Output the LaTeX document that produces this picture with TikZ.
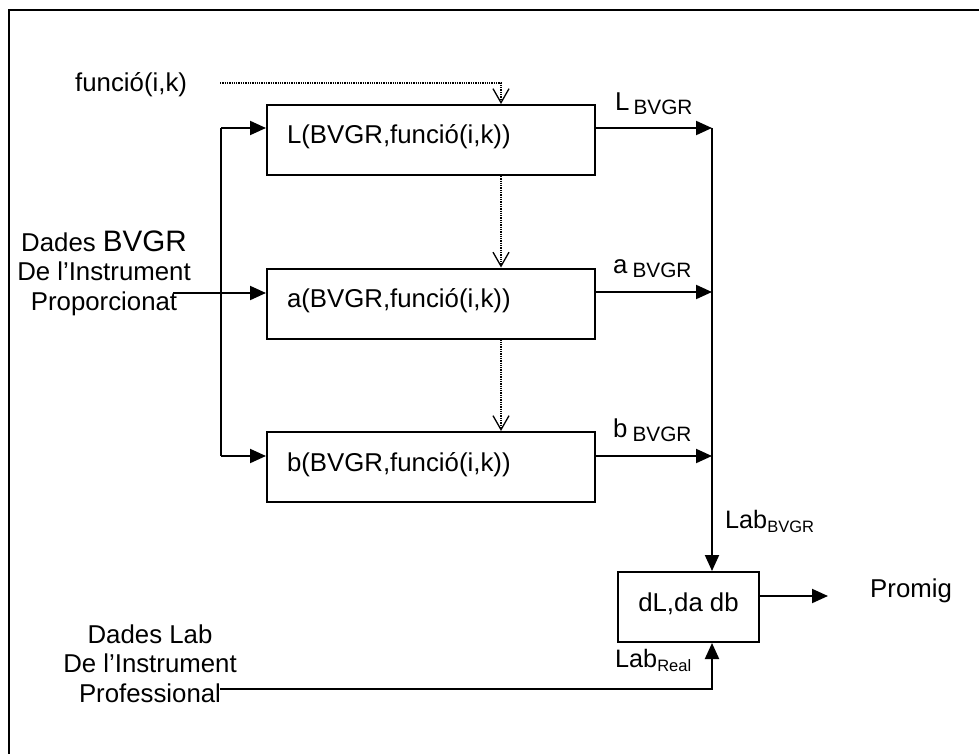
\documentclass[tikz,border=0pt]{standalone}
\usepackage{fontspec}
\setmainfont{Liberation Sans}
\usetikzlibrary{arrows.meta}
\newcommand\dfont{\fontsize{25.8pt}{29.5pt}\selectfont}
\newcommand\sbfont{\fontsize{20.8pt}{22pt}\selectfont}
\begin{document}
\begin{tikzpicture}[x=1pt,y=-1pt,
  ln/.style={line width=2pt},
  box/.style={draw, line width=2pt, minimum height=70pt, inner xsep=20pt, inner ysep=0pt,
    text height=18pt, text depth=10pt, text width=288pt, align=left, font=\dfont},
  box2/.style={draw, line width=2pt, minimum width=141pt, minimum height=70pt, inner sep=0pt,
    text height=18pt, text depth=10pt, font=\dfont},
  txt/.style={inner sep=0pt, font=\dfont},
  arr/.style={line width=2pt, -{Triangle[length=16pt,width=14pt]}},
  dot/.style={line width=1.3pt, densely dotted, -{Straight Barb[length=14pt,width=16pt,line width=1.3pt]}}]
\useasboundingbox (0,0) rectangle (979,754);
% frame
\draw[line width=2pt] (979,10) -- (9,10) -- (9,754);

% boxes
\node[box] (Lb) at (431,140) {L(BVGR,funció(i,k))};
\node[box] (ab) at (431,303.5) {a(BVGR,funció(i,k))};
\node[box] (bb) at (431,467) {b(BVGR,funció(i,k))};
\node[box2] (dl) at (688.5,607) {dL,da db};

% function input (dotted)
\node[txt, anchor=base west] (fn) at (75,92) {funció(i,k)};
\coordinate (fs) at (220,83);
\draw[dot] (fs) -| ([xshift=70pt]Lb.north);
\draw[dot] ([xshift=70pt]Lb.south) -- ([xshift=70pt]ab.north);
\draw[dot] ([xshift=70pt]ab.south) -- ([xshift=70pt]bb.north);

% left input
\node[txt, anchor=base, align=center] (dbv) at (104,310)
  {Dades {\fontsize{29.6pt}{29pt}\selectfont BVGR}\\De l’Instrument\\Proporcionat};
\coordinate (lt) at (221,128);
\coordinate (lb) at (221,456);
\coordinate (ms) at (173,293);
\draw[ln] (lt) -- (lb);
\draw[arr] (lt) -- (lt -| Lb.west);
\draw[arr] (lb) -- (lb -| bb.west);
\draw[arr] (ms) -- (ms -| ab.west);

% right bus
\coordinate (jL) at (712,128);
\coordinate (ja) at (712,292);
\coordinate (jb) at (712,456);
\draw[arr] (Lb.east |- jL) -- (jL);
\draw[arr] (ab.east |- ja) -- (ja);
\draw[arr] (bb.east |- jb) -- (jb);
\draw[arr] (jL) -- (jL |- dl.north);

\node[txt, anchor=base west] (lL) at (615,111) {L\hspace{4pt}\raisebox{-4pt}{\sbfont BVGR}};
\node[txt, anchor=base west] (la) at (613,273) {a\hspace{5pt}\raisebox{-4pt}{\sbfont BVGR}};
\node[txt, anchor=base west] (lbb) at (613,437) {b\hspace{5pt}\raisebox{-4pt}{\sbfont BVGR}};
\node[txt, anchor=base west] (lab) at (725,528)
  {\fontsize{25.2pt}{28pt}\selectfont Lab\raisebox{-4pt}{\fontsize{16.5pt}{18pt}\selectfont BVGR}};

% lab input
\node[txt, anchor=base, align=center] (dlab) at (150,702)
  {Dades Lab\\De l’Instrument\\Professional};
\coordinate (bs) at (220,689);
\draw[arr] (bs) -| (jL |- dl.south);
\node[txt, anchor=base west] (lreal) at (615,667)
  {\fontsize{25.2pt}{28pt}\selectfont Lab\raisebox{-4pt}{\fontsize{16.5pt}{18pt}\selectfont Real}};

% output
\coordinate (pe) at (828,596);
\draw[arr] (dl.east |- pe) -- (pe);
\node[txt, anchor=base west] (pr) at (870,597) {Promig};
\end{tikzpicture}
\end{document}
